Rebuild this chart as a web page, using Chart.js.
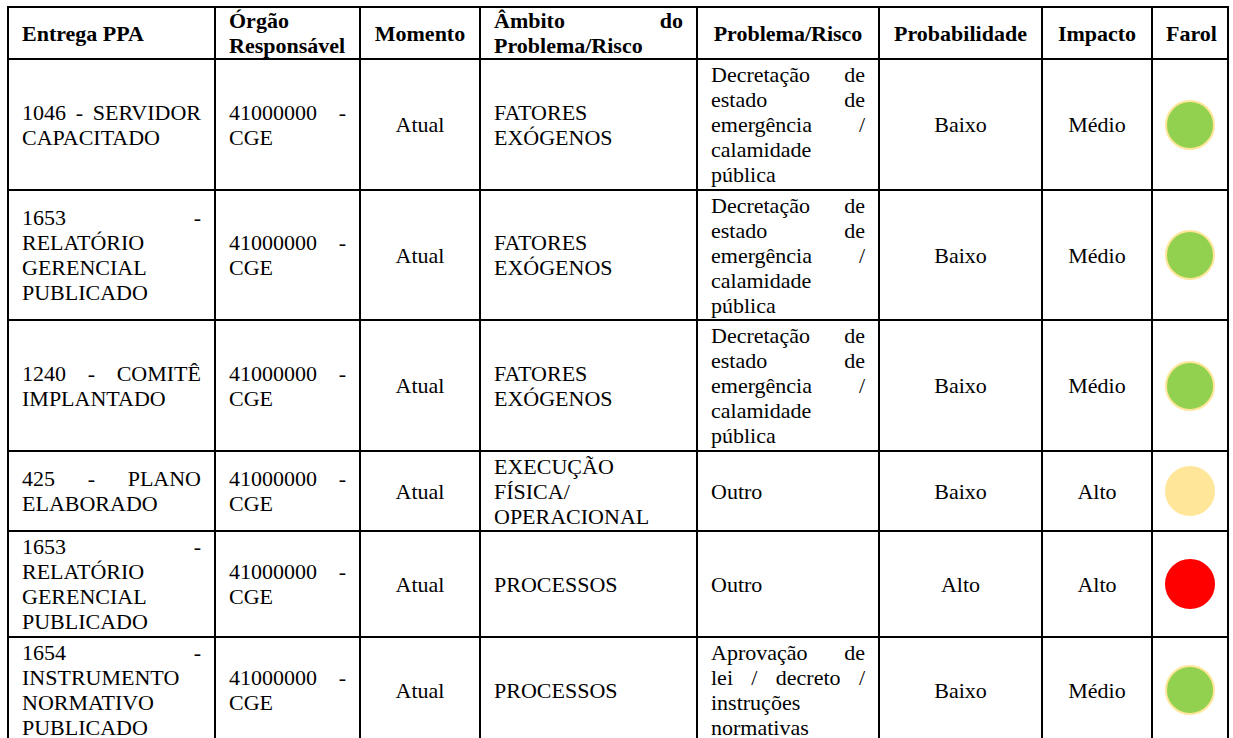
<!DOCTYPE html>
<html lang="pt-BR">
<head>
<meta charset="utf-8">
<title>Farol de riscos</title>
<script src="https://cdn.jsdelivr.net/npm/chart.js@4.4.1/dist/chart.umd.min.js"></script>
<style>
  html, body { margin: 0; padding: 0; background: #fff; width: 1233px; height: 738px; overflow: hidden; }
  body, table, th, td, div { font-family: 'Liberation Serif', Tinos, 'Times New Roman', 'Nimbus Roman', 'DejaVu Serif', serif; }
  #quadro {
    position: absolute; left: 7px; top: 6px;
    border-collapse: collapse; table-layout: fixed; width: 1222px;
    font-size: 22px; line-height: 25px; color: #000;
  }
  #quadro td, #quadro th { border: 2px solid #000; padding: 0 13px; vertical-align: middle; overflow: hidden; font-weight: normal; }
  #quadro th { font-weight: bold; }
  .c { text-align: center; }
  .j > div { text-align: left; }
  .j > div.just { text-align: justify; text-align-last: justify; }
  #quadro td.farol { padding: 0; text-align: center; }
  td.farol canvas { display: block; margin: 0 auto; }
</style>
</head>
<body>
<table id="quadro">
  <colgroup>
    <col style="width:207px"><col style="width:145px"><col style="width:120px"><col style="width:217px">
    <col style="width:182px"><col style="width:163px"><col style="width:110px"><col style="width:76px">
  </colgroup>
  <thead><tr id="cabecalho" style="height:52px"></tr></thead>
  <tbody id="linhas"></tbody>
</table>

<script>
// cabeçalho da tabela
const colunas = ['Entrega PPA', 'Órgão\nResponsável', 'Momento', 'Âmbito do\nProblema/Risco',
                 'Problema/Risco', 'Probabilidade', 'Impacto', 'Farol'];

// dados de cada linha
const entregas = [
  '1046 - SERVIDOR\nCAPACITADO',
  '1653 -\nRELATÓRIO\nGERENCIAL\nPUBLICADO',
  '1240 - COMITÊ\nIMPLANTADO',
  '425 - PLANO\nELABORADO',
  '1653 -\nRELATÓRIO\nGERENCIAL\nPUBLICADO',
  '1654 -\nINSTRUMENTO\nNORMATIVO\nPUBLICADO'
];
const orgaos = ['41000000 -\nCGE', '41000000 -\nCGE', '41000000 -\nCGE', '41000000 -\nCGE', '41000000 -\nCGE', '41000000 -\nCGE'];
const momentos = ['Atual', 'Atual', 'Atual', 'Atual', 'Atual', 'Atual'];
const ambitos = ['FATORES\nEXÓGENOS', 'FATORES\nEXÓGENOS', 'FATORES\nEXÓGENOS', 'EXECUÇÃO\nFÍSICA/\nOPERACIONAL', 'PROCESSOS', 'PROCESSOS'];
const problemas = [
  'Decretação de\nestado de\nemergência /\ncalamidade\npública',
  'Decretação de\nestado de\nemergência /\ncalamidade\npública',
  'Decretação de\nestado de\nemergência /\ncalamidade\npública',
  'Outro',
  'Outro',
  'Aprovação de\nlei / decreto /\ninstruções\nnormativas'
];
const probabilidades = ['Baixo', 'Baixo', 'Baixo', 'Baixo', 'Alto', 'Baixo'];
const impactos = ['Médio', 'Médio', 'Médio', 'Alto', 'Alto', 'Médio'];
const farois = ['verde', 'verde', 'verde', 'amarelo', 'vermelho', 'verde'];

// estilo dos farois e alturas das linhas
const coresFarol = {
  verde:    { fundo: '#92D050', borda: '#FFE699' },
  amarelo:  { fundo: '#FFE699', borda: '#FFE699' },
  vermelho: { fundo: '#FF0000', borda: '#FF0000' }
};
const alturas = [131, 130, 131, 80, 106, 106];

// monta o texto em linhas, justificando todas menos a última
function blocoTexto(texto) {
  const partes = texto.split('\n');
  return partes.map(function(p, i) {
    const cls = i < partes.length - 1 ? ' class="just"' : '';
    return '<div' + cls + '>' + p + '</div>';
  }).join('');
}

// cabeçalho
const cab = document.getElementById('cabecalho');
colunas.forEach(function(nome, i) {
  const th = document.createElement('th');
  if (i === 0 || i === 1 || i === 3) {
    th.className = 'j';
    th.innerHTML = blocoTexto(nome);
  } else {
    th.className = 'c';
    th.textContent = nome;
  }
  cab.appendChild(th);
});

// linhas
const corpo = document.getElementById('linhas');
for (let i = 0; i < entregas.length; i++) {
  const tr = document.createElement('tr');
  tr.style.height = alturas[i] + 'px';
  tr.innerHTML =
    '<td class="j">' + blocoTexto(entregas[i]) + '</td>' +
    '<td class="j">' + blocoTexto(orgaos[i]) + '</td>' +
    '<td class="c">' + momentos[i] + '</td>' +
    '<td class="j">' + blocoTexto(ambitos[i]) + '</td>' +
    '<td class="j">' + blocoTexto(problemas[i]) + '</td>' +
    '<td class="c">' + probabilidades[i] + '</td>' +
    '<td class="c">' + impactos[i] + '</td>' +
    '<td class="farol"><canvas id="farol-' + i + '" width="72" height="72" style="width:72px;height:72px"></canvas></td>';
  corpo.appendChild(tr);
}

// desenha cada farol com Chart.js
function GerarFarol(i) {
  const cor = coresFarol[farois[i]];
  new Chart(document.getElementById('farol-' + i), {
    type: 'scatter',
    data: {
      datasets: [{
        data: [{ x: 0, y: 0 }],
        clip: false,
        pointStyle: 'circle',
        pointRadius: 24,
        pointHoverRadius: 24,
        pointBackgroundColor: cor.fundo,
        pointBorderColor: cor.borda,
        pointBorderWidth: 2
      }]
    },
    options: {
      responsive: false,
      animation: false,
      devicePixelRatio: 1,
      events: [],
      layout: { padding: 0 },
      plugins: { legend: { display: false }, tooltip: { enabled: false } },
      scales: {
        x: { display: false, min: -1, max: 1 },
        y: { display: false, min: -1, max: 1 }
      }
    }
  });
}

for (let i = 0; i < farois.length; i++) {
  GerarFarol(i);
}
</script>
</body>
</html>
